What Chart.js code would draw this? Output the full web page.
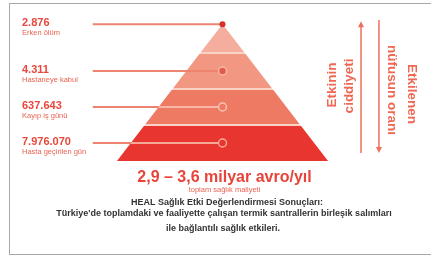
<!DOCTYPE html>
<html>
<head>
<meta charset="utf-8">
<script src="https://cdn.jsdelivr.net/npm/chart.js@4.4.1/dist/chart.umd.min.js"></script>
<style>
  html, body { margin: 0; padding: 0; background: #ffffff; }
  #c { display: block; }
</style>
</head>
<body>
<canvas id="c" width="431" height="258"></canvas>
<script>
// ---------- data ----------
const tierValues = [2876, 4311, 637643, 7976070];
const tierLabels = ['Erken ölüm', 'Hastaneye kabul', 'Kayıp iş günü', 'Hasta geçirilen gün'];
const costRange = [2.9, 3.6];
const costUnit = 'milyar avro/yıl';
const costLabel = 'toplam sağlık maliyeti';
const severityLabel = ['Etkinin', 'ciddiyeti'];
const populationLabel = ['Etkilenen', 'nüfusun oranı'];
const captionLines = [
  'HEAL Sağlık Etki Değerlendirmesi Sonuçları:',
  "Türkiye'de toplamdaki ve faaliyette çalışan termik santrallerin birleşik salımları",
  'ile bağlantılı sağlık etkileri.'
];

// ---------- styles / geometry ----------
const tierColors = ['#f5ae9d', '#f29782', '#ef7a64', '#e8352f'];
const innerLineColors = [null, null, '#f8b7a6', '#f6a898'];
const markerFill = ['#d4302b', '#e25b4b', '#ef7a64', '#e8352f'];
const markerBorder = ['#d4302b', '#f6b7a6', '#f8c2b3', '#f6a898'];
const markerRadius = [3, 4, 4, 4];
const lineColor = '#ee8370';
const APEX = 3.8;          // pyramid apex in tier units
const GAP = 0.03;          // separator half-gap
const LINE_START = -1.23;  // where connector lines start (x units)
const hw = y => (APEX - y) / APEX;
const nTiers = tierValues.length;

function fmt(n) { return String(n).replace(/\B(?=(\d{3})+(?!\d))/g, '.'); }
function dec(n) { return String(n).replace('.', ','); }

const datasets = [];
datasets.push({
  data: [{x: -1, y: 0}, {x: 1, y: 0}, {x: 0, y: APEX}, {x: -1, y: 0}],
  showLine: true, fill: 'shape', backgroundColor: '#f9d2c6', borderWidth: 0,
  pointRadius: 0, order: 10
});
for (let i = 0; i < nTiers; i++) {
  const k = nTiers - 1 - i;
  const y0 = k === 0 ? 0 : k + GAP;
  const y1 = Math.min(k + 1, APEX) - (i === 0 ? 0 : GAP);
  datasets.push({
    data: [{x: -hw(y0), y: y0}, {x: hw(y0), y: y0}, {x: hw(y1), y: y1}, {x: -hw(y1), y: y1}, {x: -hw(y0), y: y0}],
    showLine: true, fill: 'shape', backgroundColor: tierColors[i], borderWidth: 0,
    pointRadius: 0, order: 9
  });
}
const markerY = tierValues.map((v, i) => {
  const k = nTiers - 1 - i;
  return i === 0 ? APEX : k + 0.5;
});
for (let i = 0; i < nTiers; i++) {
  datasets.push({
    data: [{x: LINE_START, y: markerY[i]}, {x: 0, y: markerY[i]}],
    showLine: true, borderColor: lineColor, borderWidth: 2, pointRadius: 0,
    clip: false, order: 5
  });
  if (innerLineColors[i]) {
    datasets.push({
      data: [{x: -hw(markerY[i]), y: markerY[i]}, {x: 0, y: markerY[i]}],
      showLine: true, borderColor: innerLineColors[i], borderWidth: 2, pointRadius: 0,
      clip: false, order: 4
    });
  }
}
datasets.push({
  data: markerY.map(y => ({x: 0, y})),
  showLine: false,
  pointRadius: markerRadius, pointHoverRadius: markerRadius,
  pointBackgroundColor: markerFill, pointBorderColor: markerBorder,
  pointBorderWidth: [0, 1.5, 1.5, 1.5],
  clip: false, order: 1
});
const arrowColor = '#ef6f5e';
const arrowStart = datasets.length;
datasets.push({
  data: [{x: 1.313, y: 0.22}, {x: 1.313, y: 3.74}],
  showLine: true, borderColor: arrowColor, borderWidth: 1.5, pointRadius: 0,
  clip: false, order: 3
});
datasets.push({
  data: [{x: 1.483, y: 3.92}, {x: 1.483, y: 0.36}],
  showLine: true, borderColor: arrowColor, borderWidth: 1.5, pointRadius: 0,
  clip: false, order: 3
});

const textPlugin = {
  id: 'texts',
  afterDraw(chart) {
    const ctx = chart.ctx;
    const xs = chart.scales.x, ys = chart.scales.y;
    ctx.save();
    // arrowheads at the end of the arrow lines
    ctx.fillStyle = arrowColor;
    [0, 1].forEach(j => {
      const pts = chart.getDatasetMeta(arrowStart + j).data;
      const p = pts[1], q = pts[0];
      const dir = p.y < q.y ? -1 : 1;
      ctx.beginPath();
      ctx.moveTo(p.x, p.y + dir * 5);
      ctx.lineTo(p.x - 3, p.y - dir * 1);
      ctx.lineTo(p.x + 3, p.y - dir * 1);
      ctx.closePath();
      ctx.fill();
    });
    // frame
    ctx.strokeStyle = '#a8a8a8';
    ctx.lineWidth = 1;
    ctx.strokeRect(9.5, 3.5, 440, 251);
    const F = 'Liberation Sans, Arial, sans-serif';
    ctx.textAlign = 'left';
    ctx.textBaseline = 'alphabetic';
    for (let i = 0; i < nTiers; i++) {
      const py = ys.getPixelForValue(markerY[i]);
      ctx.fillStyle = '#e8473b';
      ctx.font = 'bold 11px ' + F;
      ctx.fillText(fmt(tierValues[i]), 22, py + 2);
      ctx.fillStyle = '#ea6352';
      ctx.font = '7.5px ' + F;
      ctx.fillText(tierLabels[i], 22, py + 11);
    }
    const cx = xs.getPixelForValue(0) + 2;
    ctx.textAlign = 'center';
    ctx.fillStyle = '#e8443a';
    ctx.font = 'bold 16px ' + F;
    ctx.fillText(dec(costRange[0]) + ' – ' + dec(costRange[1]) + ' ' + costUnit, cx, 182);
    ctx.fillStyle = '#ea6352';
    ctx.font = '7.5px ' + F;
    ctx.fillText(costLabel, cx, 192);
    ctx.fillStyle = '#333333';
    ctx.font = 'bold 9px ' + F;
    ctx.fillText(captionLines[0], 227, 205);
    ctx.fillText(captionLines[1], 224, 216);
    ctx.fillText(captionLines[2], 223, 231);
    ctx.fillStyle = '#ee6853';
    ctx.font = 'bold 13.5px ' + F;
    ctx.textBaseline = 'middle';
    const rot = (t, x, y, a) => { ctx.save(); ctx.translate(x, y); ctx.rotate(a); ctx.fillText(t, 0, 0); ctx.restore(); };
    rot(severityLabel[0], 332, 85, -Math.PI / 2);
    rot(severityLabel[1], 349, 86, -Math.PI / 2);
    rot(populationLabel[0], 412, 94, Math.PI / 2);
    rot(populationLabel[1], 392, 90, Math.PI / 2);
    ctx.restore();
  }
};

new Chart(document.getElementById('c'), {
  type: 'scatter',
  data: { datasets },
  options: {
    responsive: false,
    animation: false,
    devicePixelRatio: 1,
    layout: { padding: { left: 117, right: 103, top: 17, bottom: 97 } },
    scales: {
      x: { type: 'linear', min: -1, max: 1, display: false },
      y: { type: 'linear', min: 0, max: 4, display: false }
    },
    plugins: { legend: { display: false }, tooltip: { enabled: false } },
    elements: { line: { tension: 0 } }
  },
  plugins: [textPlugin]
});
</script>
</body>
</html>
